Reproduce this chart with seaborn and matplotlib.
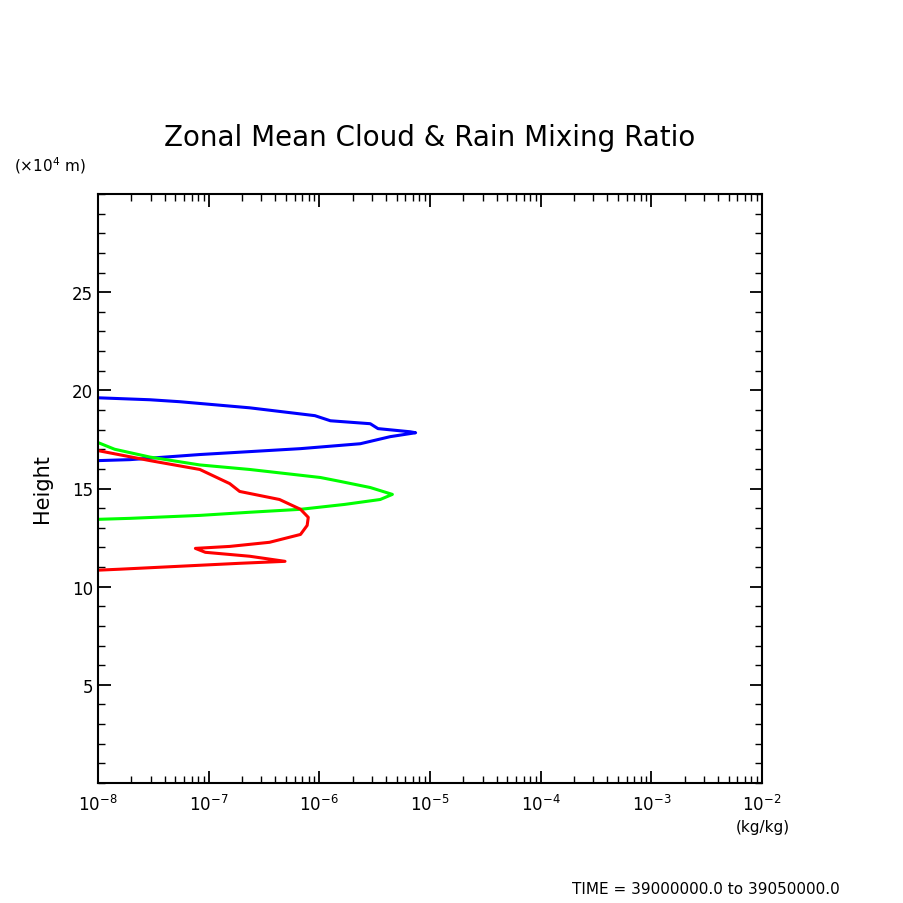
import numpy as np
import matplotlib
matplotlib.use("Agg")
import matplotlib.pyplot as plt
import seaborn as sns
import pandas as pd
from matplotlib.ticker import LogLocator, MultipleLocator, NullFormatter

sns.set_style("white")
plt.rcParams['font.family'] = ['DejaVu Sans']
plt.rcParams['text.color'] = 'black'

blue_log = [-8, -7.53, -7.26, -6.63, -6.04, -5.90, -5.54, -5.47, -5.18, -5.13, -5.36, -5.63, -6.17, -7.08, -7.71, -8]
blue_h = [19.62, 19.52, 19.42, 19.11, 18.71, 18.45, 18.30, 18.05, 17.89, 17.84, 17.64, 17.28, 17.03, 16.73, 16.47, 16.42]
green_log = [-8, -7.85, -7.53, -7.08, -6.63, -5.99, -5.81, -5.54, -5.34, -5.45, -5.77, -6.17, -6.63, -7.08, -7.71, -8]
green_h = [17.34, 17.0, 16.6, 16.2, 15.97, 15.56, 15.36, 15.05, 14.70, 14.44, 14.19, 13.94, 13.79, 13.63, 13.48, 13.43]
red_log = [-8, -7.53, -7.08, -6.81, -6.72, -6.36, -6.17, -6.10, -6.11, -6.17, -6.45, -6.81, -7.12, -7.03, -6.63, -6.31, -6.72, -7.26, -7.80, -8]
red_h = [16.93, 16.42, 15.97, 15.25, 14.85, 14.44, 13.94, 13.53, 13.12, 12.66, 12.26, 12.05, 11.95, 11.75, 11.55, 11.29, 11.19, 11.04, 10.89, 10.84]

fig = plt.figure(figsize=(9.04, 9.04), dpi=100)
ax = fig.add_axes([98/904, 1-784/904, 664/904, 589/904])
for lg, h, c in [(blue_log, blue_h, '#0000ff'), (green_log, green_h, '#00ff00'), (red_log, red_h, '#ff0000')]:
    df = pd.DataFrame({'x': 10.0 ** np.array(lg), 'y': h})
    sns.lineplot(data=df, x='x', y='y', sort=False, estimator=None, color=c, lw=2.2, ax=ax)
ax.set_xscale('log')
ax.set_xlim(1e-8, 1e-2)
ax.set_ylim(0, 30)
ax.set_xlabel(''); ax.set_ylabel('')
ax.xaxis.set_major_locator(LogLocator(base=10, numticks=10))
ax.xaxis.set_minor_locator(LogLocator(base=10, subs=np.arange(2, 10), numticks=20))
ax.xaxis.set_minor_formatter(NullFormatter())
ax.set_yticks([5, 10, 15, 20, 25])
ax.yaxis.set_minor_locator(MultipleLocator(1))
ax.tick_params(which='both', direction='in', top=True, right=True, bottom=True, left=True,
               labelsize=12, colors='black')
ax.tick_params(which='major', length=9, width=1.3)
ax.tick_params(which='minor', length=5, width=1)
ax.tick_params(axis='x', pad=8)
for s in ax.spines.values():
    s.set_color('black'); s.set_linewidth(1.5)
fig.text(430/904, 1-138/904, 'Zonal Mean Cloud & Rain Mixing Ratio', ha='center', va='center', fontsize=20)
fig.text(14/904, 1-166/904, '(×10$^4$ m)', ha='left', va='center', fontsize=11)
fig.text(42/904, 1-489/904, 'Height', rotation=90, ha='center', va='center', fontsize=15)
fig.text(790/904, 1-828/904, '(kg/kg)', ha='right', va='center', fontsize=11)
fig.text(840/904, 1-890/904, 'TIME = 39000000.0 to 39050000.0', ha='right', va='center', fontsize=11)
fig.savefig('out.png', dpi=100)
